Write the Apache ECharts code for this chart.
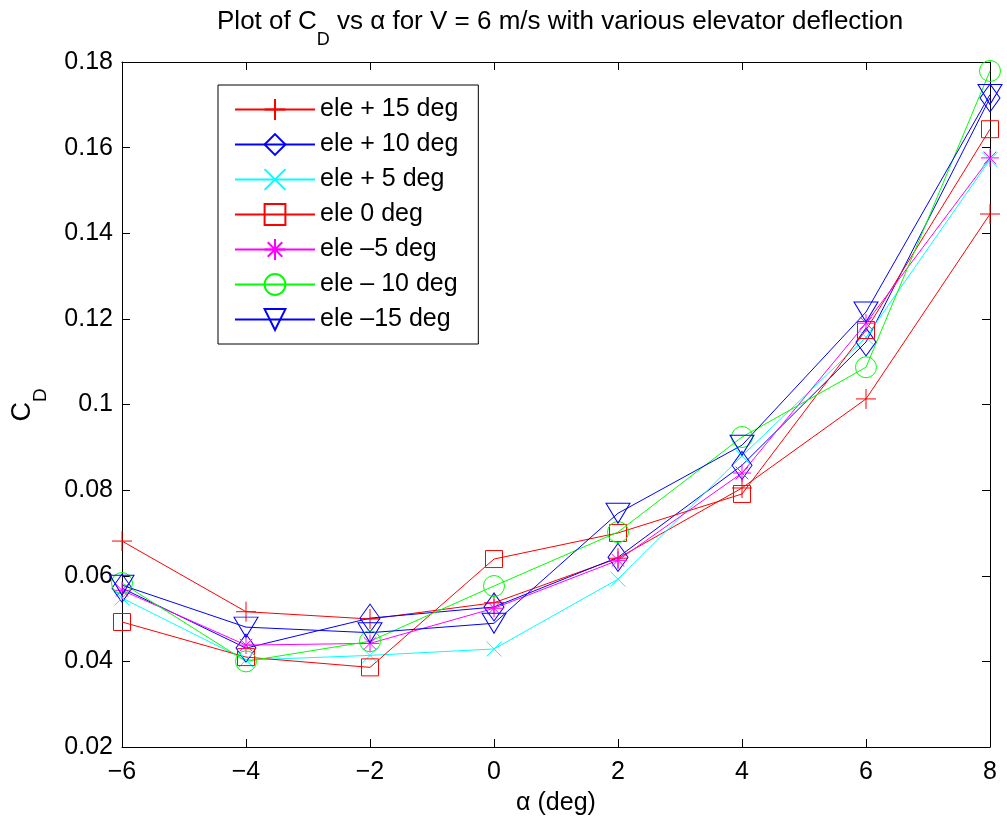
<!DOCTYPE html>
<html>
<head>
<meta charset="utf-8">
<script src="https://cdn.jsdelivr.net/npm/echarts@6/dist/echarts.min.js"></script>
<style>
html, body { margin: 0; padding: 0; background: #fff; }
#main { width: 1007px; height: 823px; }
</style>
</head>
<body>
<div id="main"></div>
<script>
// angle of attack (deg)
var alpha = [-6, -4, -2, 0, 2, 4, 6, 8];
// CD for each elevator deflection
var ele_p15 = [0.0681, 0.0516, 0.0499, 0.0537, 0.0641, 0.0805, 0.1013, 0.1445];
var ele_p10 = [0.0571, 0.0431, 0.0501, 0.0527, 0.0643, 0.0858, 0.1146, 0.1716];
var ele_p5  = [0.0548, 0.0403, 0.0414, 0.0429, 0.0592, 0.0880, 0.1157, 0.1572];
var ele_0   = [0.0492, 0.0410, 0.0386, 0.0639, 0.0700, 0.0791, 0.1174, 0.1643];
var ele_m5  = [0.0566, 0.0438, 0.0442, 0.0524, 0.0636, 0.0840, 0.1190, 0.1576];
var ele_m10 = [0.0583, 0.0400, 0.0447, 0.0576, 0.0702, 0.0924, 0.1087, 0.1779];
var ele_m15 = [0.0578, 0.0480, 0.0467, 0.0489, 0.0746, 0.0905, 0.1216, 0.1724];
var names = ['ele + 15 deg', 'ele + 10 deg', 'ele + 5 deg', 'ele 0 deg', 'ele \u20135 deg', 'ele \u2013 10 deg', 'ele \u201315 deg'];
var xTicks = [-6, -4, -2, 0, 2, 4, 6, 8];
var yTicks = [0.02, 0.04, 0.06, 0.08, 0.1, 0.12, 0.14, 0.16, 0.18];

var font = 'Liberation Sans, Arial, sans-serif';
var myChart = echarts.init(document.getElementById('main'), null, {renderer: 'canvas'});

function pairs(ys) {
	var d = [];
	for (var i = 0; i < alpha.length; i++) d.push([alpha[i], ys[i]]);
	return d;
}
function mk(name, ys, color, symbol, size) {
	return {
		name: name,
		type: 'line',
		data: pairs(ys),
		color: color,
		symbol: symbol,
		symbolSize: size,
		showAllSymbol: true,
		lineStyle: {color: color, width: 1},
		itemStyle: {color: 'rgba(0,0,0,0)', borderColor: color, borderWidth: 1},
		emphasis: {disabled: true},
		z: 3
	};
}
var plus = 'path://M0,5L10,5M5,0L5,10';
var cross = 'path://M0,0L10,10M10,0L0,10';
var star = 'path://M0,5L10,5M5,0L5,10M1.5,1.5L8.5,8.5M8.5,1.5L1.5,8.5';
var tri = 'path://M0,0L10,0L5,8.66Z';

var axisCommon = {
	type: 'value',
	axisLine: {show: true, onZero: false, lineStyle: {color: '#000', width: 1}},
	axisTick: {show: true, inside: true, length: 8, lineStyle: {color: '#000', width: 1}},
	splitLine: {show: false}
};
var xFmt = function(v) { return v < 0 ? '\u2212' + (-v) : String(v); };
var yFmt = function(v) { return String(+v.toFixed(2)); };

// subscript helper styles: h forces a tall line, a sits on top, s sits at the bottom
function subRich(big, small) {
	return {
		h: {fontSize: 1, lineHeight: big + 14},
		a: {fontSize: big, fontFamily: font, fill: '#000', lineHeight: big, verticalAlign: 'top'},
		s: {fontSize: small, fontFamily: font, fill: '#000', lineHeight: small, verticalAlign: 'bottom'}
	};
}

var option = {
	backgroundColor: '#fff',
	animation: false,
	grid: {left: 122, right: 17, top: 62, bottom: 76, containLabel: false},
	xAxis: [
		Object.assign({}, axisCommon, {min: xTicks[0], max: xTicks[xTicks.length - 1], interval: 2, position: 'bottom',
			axisLabel: {color: '#000', fontSize: 25, fontFamily: font, margin: 13, formatter: xFmt}}),
		Object.assign({}, axisCommon, {min: xTicks[0], max: xTicks[xTicks.length - 1], interval: 2, position: 'top',
			axisLabel: {show: false}})
	],
	yAxis: [
		Object.assign({}, axisCommon, {min: yTicks[0], max: yTicks[yTicks.length - 1], interval: 0.02, position: 'left',
			axisLabel: {color: '#000', fontSize: 25, fontFamily: font, margin: 9, formatter: yFmt}}),
		Object.assign({}, axisCommon, {min: yTicks[0], max: yTicks[yTicks.length - 1], interval: 0.02, position: 'right',
			axisLabel: {show: false}})
	],
	legend: {
		orient: 'vertical',
		left: 218,
		top: 85,
		padding: [12, 20, 12, 16],
		itemWidth: 80,
		itemHeight: 26,
		itemGap: 10,
		backgroundColor: '#fff',
		borderColor: '#000',
		borderWidth: 1,
		borderRadius: 0,
		selectedMode: false,
		textStyle: {color: '#000', fontSize: 25, fontFamily: font},
		data: names
	},
	series: [
		mk(names[0], ele_p15, '#ff0000', plus, 20),
		mk(names[1], ele_p10, '#0000ff', 'diamond', [20, 28]),
		mk(names[2], ele_p5, '#00ffff', cross, 15),
		mk(names[3], ele_0, '#ff0000', 'rect', 17),
		mk(names[4], ele_m5, '#ff00ff', star, 18),
		mk(names[5], ele_m10, '#00ff00', 'circle', 21),
		mk(names[6], ele_m15, '#0000ff', tri, [24, 20])
	],
	graphic: [
		{
			type: 'text', x: 560, y: 29,
			style: {
				text: '{h| }{a|Plot of C}{s|D}{a| vs \u03b1 for V = 6 m/s with various elevator deflection}',
				align: 'center', verticalAlign: 'middle',
				rich: subRich(26, 18)
			}
		},
		{
			type: 'text', x: 556, y: 803,
			style: {text: '\u03b1 (deg)', align: 'center', verticalAlign: 'middle', fontSize: 25, fontFamily: font, fill: '#000'}
		},
		{
			type: 'text', x: 30, y: 405, rotation: Math.PI / 2,
			style: {
				text: '{h| }{a|C}{s|D}',
				align: 'center', verticalAlign: 'middle',
				rich: subRich(27, 19)
			}
		}
	]
};
myChart.setOption(option);
</script>
</body>
</html>
